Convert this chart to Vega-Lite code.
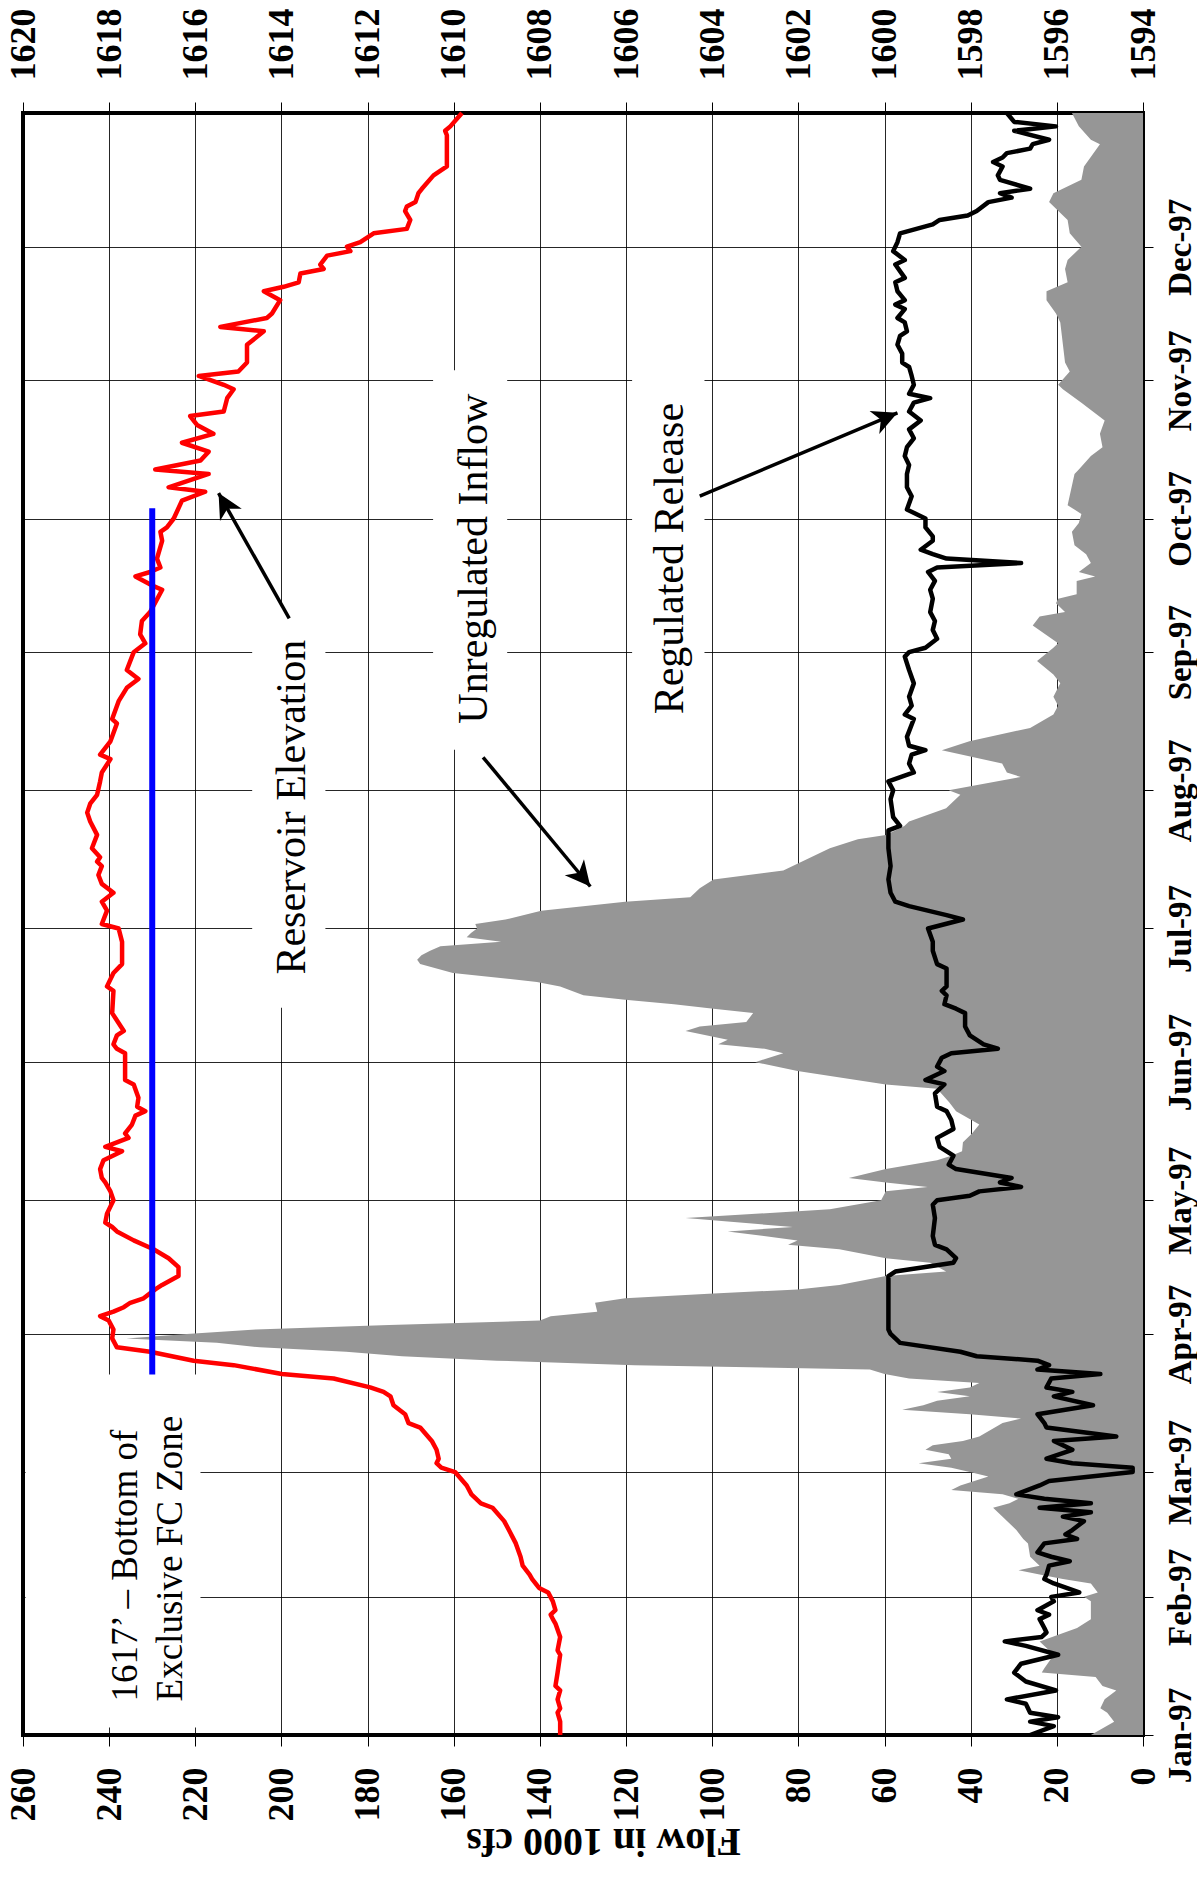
{
  "$schema": "https://vega.github.io/schema/vega-lite/v6.json",
  "width": 1120,
  "height": 1622,
  "autosize": {"type": "none"},
  "padding": {"left": 23, "top": 113, "right": 54, "bottom": 152},
  "background": "white",
  "config": {"view": {"stroke": "black", "strokeWidth": 4}, "font": "Liberation Serif"},
  "datasets": {
    "boxes": [
      {"f1": 189.8, "f2": 206.8, "d1": "1997/06/13 05:00", "d2": "1997/09/11 05:00"},
      {"f1": 147.6, "f2": 164.8, "d1": "1997/08/10 02:00", "d2": "1997/11/03 07:00"},
      {"f1": 101.8, "f2": 118.6, "d1": "1997/08/10 02:00", "d2": "1997/11/03 07:00"},
      {"f1": 218.8, "f2": 259.4, "d1": "1997/01/02 16:00", "d2": "1997/03/22 22:00"}
    ],
    "inflow": [
      {"date": "1997/01/01", "flow": 12.1}, {"date": "1997/01/04", "flow": 6.7}, {"date": "1997/01/06", "flow": 8.3},
      {"date": "1997/01/07", "flow": 9.9}, {"date": "1997/01/09", "flow": 8.9}, {"date": "1997/01/11", "flow": 6.2},
      {"date": "1997/01/12", "flow": 9.4}, {"date": "1997/01/14", "flow": 11.0}, {"date": "1997/01/15", "flow": 23.5},
      {"date": "1997/01/16", "flow": 22.9}, {"date": "1997/01/19", "flow": 20.7}, {"date": "1997/01/22", "flow": 24.0},
      {"date": "1997/01/25", "flow": 15.3}, {"date": "1997/01/27", "flow": 12.1}, {"date": "1997/01/31", "flow": 12.1},
      {"date": "1997/02/01", "flow": 13.7}, {"date": "1997/02/02", "flow": 10.5}, {"date": "1997/02/04", "flow": 12.1},
      {"date": "1997/02/05", "flow": 18.6}, {"date": "1997/02/06", "flow": 24.0}, {"date": "1997/02/07", "flow": 28.9},
      {"date": "1997/02/08", "flow": 24.0}, {"date": "1997/02/10", "flow": 26.2}, {"date": "1997/02/13", "flow": 26.7},
      {"date": "1997/02/14", "flow": 27.8}, {"date": "1997/02/16", "flow": 29.4}, {"date": "1997/02/19", "flow": 32.6},
      {"date": "1997/02/21", "flow": 34.8}, {"date": "1997/02/22", "flow": 31.0}, {"date": "1997/02/23", "flow": 28.9},
      {"date": "1997/02/24", "flow": 32.6}, {"date": "1997/02/25", "flow": 44.5}, {"date": "1997/02/26", "flow": 42.4},
      {"date": "1997/02/28", "flow": 35.9}, {"date": "1997/03/01", "flow": 40.2}, {"date": "1997/03/02", "flow": 44.5},
      {"date": "1997/03/03", "flow": 52.1}, {"date": "1997/03/04", "flow": 44.5}, {"date": "1997/03/05", "flow": 45.1},
      {"date": "1997/03/06", "flow": 50.5}, {"date": "1997/03/07", "flow": 48.8}, {"date": "1997/03/08", "flow": 41.8},
      {"date": "1997/03/09", "flow": 38.0}, {"date": "1997/03/12", "flow": 32.6}, {"date": "1997/03/13", "flow": 28.3},
      {"date": "1997/03/14", "flow": 40.2}, {"date": "1997/03/15", "flow": 55.9}, {"date": "1997/03/16", "flow": 51.0},
      {"date": "1997/03/17", "flow": 47.8}, {"date": "1997/03/18", "flow": 40.2}, {"date": "1997/03/19", "flow": 47.8},
      {"date": "1997/03/20", "flow": 40.2}, {"date": "1997/03/21", "flow": 38.0}, {"date": "1997/03/22", "flow": 54.3},
      {"date": "1997/03/23", "flow": 60.0}, {"date": "1997/03/24", "flow": 63.4}, {"date": "1997/03/25", "flow": 118},
      {"date": "1997/03/26", "flow": 150}, {"date": "1997/03/27", "flow": 172}, {"date": "1997/03/28", "flow": 185},
      {"date": "1997/03/29", "flow": 205}, {"date": "1997/03/30", "flow": 215}, {"date": "1997/03/31", "flow": 236},
      {"date": "1997/04/01", "flow": 222}, {"date": "1997/04/02", "flow": 206}, {"date": "1997/04/03", "flow": 175},
      {"date": "1997/04/04", "flow": 140}, {"date": "1997/04/05", "flow": 137.5}, {"date": "1997/04/06", "flow": 126.7},
      {"date": "1997/04/08", "flow": 127.2}, {"date": "1997/04/09", "flow": 120.2}, {"date": "1997/04/10", "flow": 100.8},
      {"date": "1997/04/11", "flow": 80.2}, {"date": "1997/04/12", "flow": 70.5}, {"date": "1997/04/14", "flow": 59.7},
      {"date": "1997/04/15", "flow": 45.7}, {"date": "1997/04/17", "flow": 49.4}, {"date": "1997/04/18", "flow": 59.7},
      {"date": "1997/04/20", "flow": 70.5}, {"date": "1997/04/21", "flow": 82.4}, {"date": "1997/04/22", "flow": 80.2},
      {"date": "1997/04/24", "flow": 96.4}, {"date": "1997/04/25", "flow": 81.3}, {"date": "1997/04/27", "flow": 106.2},
      {"date": "1997/04/29", "flow": 72.7}, {"date": "1997/05/01", "flow": 60.8}, {"date": "1997/05/03", "flow": 59.7},
      {"date": "1997/05/04", "flow": 50.0}, {"date": "1997/05/05", "flow": 59.7}, {"date": "1997/05/06", "flow": 68.3},
      {"date": "1997/05/08", "flow": 59.7}, {"date": "1997/05/10", "flow": 47.8}, {"date": "1997/05/11", "flow": 44.5},
      {"date": "1997/05/12", "flow": 42.0}, {"date": "1997/05/14", "flow": 41.8}, {"date": "1997/05/16", "flow": 39.7},
      {"date": "1997/05/18", "flow": 38.0}, {"date": "1997/05/21", "flow": 43.4}, {"date": "1997/05/23", "flow": 45.0},
      {"date": "1997/05/26", "flow": 47.8}, {"date": "1997/05/27", "flow": 59.7}, {"date": "1997/05/30", "flow": 80.2},
      {"date": "1997/06/01", "flow": 90.0}, {"date": "1997/06/03", "flow": 83.5}, {"date": "1997/06/04", "flow": 87.8},
      {"date": "1997/06/05", "flow": 98.6}, {"date": "1997/06/06", "flow": 96.4}, {"date": "1997/06/08", "flow": 106.2},
      {"date": "1997/06/09", "flow": 102.9}, {"date": "1997/06/10", "flow": 92.1}, {"date": "1997/06/12", "flow": 90.5},
      {"date": "1997/06/13", "flow": 99.7}, {"date": "1997/06/14", "flow": 108.9}, {"date": "1997/06/15", "flow": 120.2},
      {"date": "1997/06/16", "flow": 129.9}, {"date": "1997/06/18", "flow": 135.3}, {"date": "1997/06/19", "flow": 140.7},
      {"date": "1997/06/21", "flow": 160.2}, {"date": "1997/06/23", "flow": 167.8}, {"date": "1997/06/24", "flow": 168.5},
      {"date": "1997/06/25", "flow": 167.5}, {"date": "1997/06/26", "flow": 165.5}, {"date": "1997/06/27", "flow": 163.1},
      {"date": "1997/06/28", "flow": 149}, {"date": "1997/06/29", "flow": 157}, {"date": "1997/06/30", "flow": 156},
      {"date": "1997/07/01", "flow": 154.6}, {"date": "1997/07/02", "flow": 155}, {"date": "1997/07/03", "flow": 148},
      {"date": "1997/07/05", "flow": 139.7}, {"date": "1997/07/07", "flow": 120.2}, {"date": "1997/07/08", "flow": 105.1},
      {"date": "1997/07/10", "flow": 102.9}, {"date": "1997/07/12", "flow": 99.7}, {"date": "1997/07/14", "flow": 83.5},
      {"date": "1997/07/19", "flow": 72.7}, {"date": "1997/07/21", "flow": 66.2}, {"date": "1997/07/22", "flow": 59.7},
      {"date": "1997/07/24", "flow": 55.4}, {"date": "1997/07/25", "flow": 54.3}, {"date": "1997/07/28", "flow": 45.7},
      {"date": "1997/07/31", "flow": 42.4}, {"date": "1997/08/01", "flow": 45.1}, {"date": "1997/08/04", "flow": 28.4},
      {"date": "1997/08/05", "flow": 31.6}, {"date": "1997/08/07", "flow": 32.7}, {"date": "1997/08/10", "flow": 46.7},
      {"date": "1997/08/12", "flow": 40.3}, {"date": "1997/08/15", "flow": 26.2}, {"date": "1997/08/18", "flow": 20.8},
      {"date": "1997/08/20", "flow": 19.7}, {"date": "1997/08/22", "flow": 20.8}, {"date": "1997/08/25", "flow": 19.2},
      {"date": "1997/08/27", "flow": 20.8}, {"date": "1997/08/30", "flow": 24.6}, {"date": "1997/09/02", "flow": 20.8},
      {"date": "1997/09/03", "flow": 19.7}, {"date": "1997/09/07", "flow": 25.6}, {"date": "1997/09/09", "flow": 24.0},
      {"date": "1997/09/10", "flow": 18.1}, {"date": "1997/09/12", "flow": 20.2}, {"date": "1997/09/13", "flow": 19.7},
      {"date": "1997/09/14", "flow": 15.4}, {"date": "1997/09/17", "flow": 15.4}, {"date": "1997/09/18", "flow": 11.1},
      {"date": "1997/09/19", "flow": 14.9}, {"date": "1997/09/21", "flow": 12.1}, {"date": "1997/09/23", "flow": 13.2},
      {"date": "1997/09/25", "flow": 15.9}, {"date": "1997/09/28", "flow": 16.5}, {"date": "1997/09/30", "flow": 14.9},
      {"date": "1997/10/02", "flow": 14.3}, {"date": "1997/10/04", "flow": 17.5}, {"date": "1997/10/11", "flow": 15.9},
      {"date": "1997/10/12", "flow": 14.9}, {"date": "1997/10/15", "flow": 12.1}, {"date": "1997/10/17", "flow": 9.4},
      {"date": "1997/10/20", "flow": 10.0}, {"date": "1997/10/23", "flow": 8.9}, {"date": "1997/10/27", "flow": 14.3},
      {"date": "1997/10/30", "flow": 18.6}, {"date": "1997/10/31", "flow": 19.7}, {"date": "1997/11/03", "flow": 17.0},
      {"date": "1997/11/05", "flow": 18.1}, {"date": "1997/11/14", "flow": 19.2}, {"date": "1997/11/16", "flow": 20.2},
      {"date": "1997/11/19", "flow": 22.4}, {"date": "1997/11/21", "flow": 22.4}, {"date": "1997/11/23", "flow": 17.5},
      {"date": "1997/11/26", "flow": 18.1}, {"date": "1997/11/28", "flow": 17.5}, {"date": "1997/12/01", "flow": 14.3},
      {"date": "1997/12/04", "flow": 17.0}, {"date": "1997/12/07", "flow": 17.5}, {"date": "1997/12/11", "flow": 21.8},
      {"date": "1997/12/13", "flow": 20.8}, {"date": "1997/12/16", "flow": 14.3}, {"date": "1997/12/19", "flow": 13.7},
      {"date": "1997/12/24", "flow": 10.0}, {"date": "1997/12/25", "flow": 12.1}, {"date": "1997/12/28", "flow": 14.9},
      {"date": "1997/12/31", "flow": 16.5}
    ],
    "release": [
      {"date": "1997/01/01", "flow": 26.2}, {"date": "1997/01/03", "flow": 20.7}, {"date": "1997/01/04", "flow": 26.2},
      {"date": "1997/01/05", "flow": 19.7}, {"date": "1997/01/06", "flow": 26.2}, {"date": "1997/01/08", "flow": 27.2},
      {"date": "1997/01/09", "flow": 31.6}, {"date": "1997/01/11", "flow": 20.2}, {"date": "1997/01/13", "flow": 27.2},
      {"date": "1997/01/15", "flow": 29.9}, {"date": "1997/01/17", "flow": 28.3}, {"date": "1997/01/19", "flow": 19.7},
      {"date": "1997/01/21", "flow": 27.2}, {"date": "1997/01/22", "flow": 32.1}, {"date": "1997/01/23", "flow": 23.5},
      {"date": "1997/01/24", "flow": 22.4}, {"date": "1997/01/25", "flow": 22.9}, {"date": "1997/01/27", "flow": 24.0},
      {"date": "1997/01/28", "flow": 21.8}, {"date": "1997/01/29", "flow": 24.5}, {"date": "1997/01/31", "flow": 20.7},
      {"date": "1997/02/01", "flow": 21.3}, {"date": "1997/02/02", "flow": 14.8}, {"date": "1997/02/04", "flow": 20.7},
      {"date": "1997/02/05", "flow": 22.9}, {"date": "1997/02/06", "flow": 22.4}, {"date": "1997/02/08", "flow": 21.8},
      {"date": "1997/02/09", "flow": 17.0}, {"date": "1997/02/10", "flow": 21.3}, {"date": "1997/02/11", "flow": 24.5},
      {"date": "1997/02/13", "flow": 22.9}, {"date": "1997/02/14", "flow": 15.3}, {"date": "1997/02/15", "flow": 18.0},
      {"date": "1997/02/16", "flow": 16.4}, {"date": "1997/02/18", "flow": 13.7}, {"date": "1997/02/19", "flow": 18.6},
      {"date": "1997/02/20", "flow": 12.1}, {"date": "1997/02/21", "flow": 24.0}, {"date": "1997/02/22", "flow": 12.1},
      {"date": "1997/02/23", "flow": 22.9}, {"date": "1997/02/24", "flow": 29.4}, {"date": "1997/02/26", "flow": 24.0},
      {"date": "1997/02/27", "flow": 21.8}, {"date": "1997/03/01", "flow": 2.4}, {"date": "1997/03/02", "flow": 2.4},
      {"date": "1997/03/03", "flow": 16.4}, {"date": "1997/03/04", "flow": 22.4}, {"date": "1997/03/06", "flow": 16.4},
      {"date": "1997/03/08", "flow": 20.7}, {"date": "1997/03/09", "flow": 6.2}, {"date": "1997/03/10", "flow": 14.3},
      {"date": "1997/03/11", "flow": 22.4}, {"date": "1997/03/12", "flow": 22.9}, {"date": "1997/03/14", "flow": 24.5},
      {"date": "1997/03/16", "flow": 11.6}, {"date": "1997/03/18", "flow": 20.7}, {"date": "1997/03/19", "flow": 16.4},
      {"date": "1997/03/20", "flow": 22.4}, {"date": "1997/03/22", "flow": 21.3}, {"date": "1997/03/23", "flow": 9.9},
      {"date": "1997/03/24", "flow": 24.5}, {"date": "1997/03/25", "flow": 21.8}, {"date": "1997/03/26", "flow": 24.5},
      {"date": "1997/03/27", "flow": 38.6}, {"date": "1997/03/28", "flow": 42.4}, {"date": "1997/03/30", "flow": 56.4},
      {"date": "1997/04/01", "flow": 58.6}, {"date": "1997/04/02", "flow": 59.1}, {"date": "1997/04/06", "flow": 59.1},
      {"date": "1997/04/10", "flow": 59.1}, {"date": "1997/04/14", "flow": 59.1}, {"date": "1997/04/15", "flow": 57.5},
      {"date": "1997/04/17", "flow": 44.0}, {"date": "1997/04/18", "flow": 43.4}, {"date": "1997/04/20", "flow": 45.6},
      {"date": "1997/04/21", "flow": 48.3}, {"date": "1997/04/23", "flow": 48.8}, {"date": "1997/04/27", "flow": 48.3},
      {"date": "1997/04/30", "flow": 48.8}, {"date": "1997/05/01", "flow": 47.8}, {"date": "1997/05/02", "flow": 40.2},
      {"date": "1997/05/03", "flow": 38.0}, {"date": "1997/05/04", "flow": 28.3}, {"date": "1997/05/05", "flow": 33.2},
      {"date": "1997/05/06", "flow": 30.5}, {"date": "1997/05/08", "flow": 43.4}, {"date": "1997/05/09", "flow": 45.1},
      {"date": "1997/05/11", "flow": 44.0}, {"date": "1997/05/13", "flow": 47.2}, {"date": "1997/05/15", "flow": 47.8},
      {"date": "1997/05/17", "flow": 44.0}, {"date": "1997/05/19", "flow": 44.5}, {"date": "1997/05/21", "flow": 45.6},
      {"date": "1997/05/22", "flow": 47.8}, {"date": "1997/05/25", "flow": 48.3}, {"date": "1997/05/27", "flow": 46.1},
      {"date": "1997/05/28", "flow": 50.5}, {"date": "1997/05/30", "flow": 46.1}, {"date": "1997/05/31", "flow": 47.8},
      {"date": "1997/06/02", "flow": 46.7}, {"date": "1997/06/03", "flow": 44.5}, {"date": "1997/06/04", "flow": 33.7},
      {"date": "1997/06/05", "flow": 37.0}, {"date": "1997/06/07", "flow": 40.2}, {"date": "1997/06/09", "flow": 41.3},
      {"date": "1997/06/12", "flow": 41.3}, {"date": "1997/06/13", "flow": 43.4}, {"date": "1997/06/14", "flow": 46.1},
      {"date": "1997/06/16", "flow": 45.6}, {"date": "1997/06/17", "flow": 46.7}, {"date": "1997/06/18", "flow": 45.6},
      {"date": "1997/06/22", "flow": 45.6}, {"date": "1997/06/23", "flow": 47.8}, {"date": "1997/06/26", "flow": 48.8},
      {"date": "1997/06/28", "flow": 48.8}, {"date": "1997/07/01", "flow": 49.9}, {"date": "1997/07/03", "flow": 41.8},
      {"date": "1997/07/04", "flow": 45.6}, {"date": "1997/07/06", "flow": 54.3}, {"date": "1997/07/07", "flow": 57.5},
      {"date": "1997/07/09", "flow": 58.6}, {"date": "1997/07/12", "flow": 59.1}, {"date": "1997/07/15", "flow": 58.6},
      {"date": "1997/07/19", "flow": 59.1}, {"date": "1997/07/23", "flow": 59.1}, {"date": "1997/07/24", "flow": 56.4},
      {"date": "1997/07/26", "flow": 58.0}, {"date": "1997/07/30", "flow": 58.6}, {"date": "1997/08/01", "flow": 58.0},
      {"date": "1997/08/03", "flow": 59.1}, {"date": "1997/08/05", "flow": 53.2}, {"date": "1997/08/07", "flow": 54.3},
      {"date": "1997/08/09", "flow": 53.7}, {"date": "1997/08/10", "flow": 50.5}, {"date": "1997/08/11", "flow": 54.3},
      {"date": "1997/08/13", "flow": 54.8}, {"date": "1997/08/17", "flow": 53.2}, {"date": "1997/08/18", "flow": 55.3},
      {"date": "1997/08/20", "flow": 53.7}, {"date": "1997/08/22", "flow": 54.3}, {"date": "1997/08/25", "flow": 53.2},
      {"date": "1997/08/28", "flow": 54.3}, {"date": "1997/08/31", "flow": 55.3}, {"date": "1997/09/01", "flow": 54.3},
      {"date": "1997/09/02", "flow": 50.5}, {"date": "1997/09/04", "flow": 47.8}, {"date": "1997/09/06", "flow": 48.8},
      {"date": "1997/09/08", "flow": 48.3}, {"date": "1997/09/10", "flow": 49.4}, {"date": "1997/09/13", "flow": 48.8},
      {"date": "1997/09/15", "flow": 49.4}, {"date": "1997/09/17", "flow": 48.3}, {"date": "1997/09/19", "flow": 49.9},
      {"date": "1997/09/20", "flow": 47.8}, {"date": "1997/09/21", "flow": 28.3}, {"date": "1997/09/22", "flow": 45.6},
      {"date": "1997/09/23", "flow": 48.8}, {"date": "1997/09/24", "flow": 51.6}, {"date": "1997/09/26", "flow": 48.8},
      {"date": "1997/09/27", "flow": 48.8}, {"date": "1997/09/29", "flow": 50.5}, {"date": "1997/10/01", "flow": 50.5},
      {"date": "1997/10/03", "flow": 54.8}, {"date": "1997/10/06", "flow": 53.7}, {"date": "1997/10/08", "flow": 54.8},
      {"date": "1997/10/11", "flow": 54.8}, {"date": "1997/10/13", "flow": 54.3}, {"date": "1997/10/15", "flow": 55.3},
      {"date": "1997/10/17", "flow": 54.8}, {"date": "1997/10/19", "flow": 53.2}, {"date": "1997/10/21", "flow": 54.3},
      {"date": "1997/10/23", "flow": 51.6}, {"date": "1997/10/25", "flow": 54.3}, {"date": "1997/10/27", "flow": 53.2},
      {"date": "1997/10/28", "flow": 49.4}, {"date": "1997/10/29", "flow": 54.3}, {"date": "1997/10/31", "flow": 53.2},
      {"date": "1997/11/02", "flow": 53.7}, {"date": "1997/11/04", "flow": 54.3}, {"date": "1997/11/05", "flow": 55.9},
      {"date": "1997/11/07", "flow": 55.9}, {"date": "1997/11/09", "flow": 57.0}, {"date": "1997/11/11", "flow": 56.4},
      {"date": "1997/11/12", "flow": 54.8}, {"date": "1997/11/14", "flow": 55.3}, {"date": "1997/11/15", "flow": 57.0},
      {"date": "1997/11/17", "flow": 55.3}, {"date": "1997/11/18", "flow": 57.5}, {"date": "1997/11/19", "flow": 55.3},
      {"date": "1997/11/21", "flow": 57.0}, {"date": "1997/11/23", "flow": 57.5}, {"date": "1997/11/24", "flow": 55.3},
      {"date": "1997/11/27", "flow": 57.5}, {"date": "1997/11/28", "flow": 55.3}, {"date": "1997/11/30", "flow": 58.0},
      {"date": "1997/12/02", "flow": 57.0}, {"date": "1997/12/04", "flow": 56.4}, {"date": "1997/12/06", "flow": 48.8},
      {"date": "1997/12/07", "flow": 47.2}, {"date": "1997/12/08", "flow": 40.7}, {"date": "1997/12/09", "flow": 38.6},
      {"date": "1997/12/11", "flow": 35.9}, {"date": "1997/12/12", "flow": 30.5}, {"date": "1997/12/13", "flow": 33.2},
      {"date": "1997/12/14", "flow": 26.2}, {"date": "1997/12/16", "flow": 33.2}, {"date": "1997/12/17", "flow": 33.7},
      {"date": "1997/12/19", "flow": 32.6}, {"date": "1997/12/20", "flow": 34.8}, {"date": "1997/12/21", "flow": 32.6},
      {"date": "1997/12/22", "flow": 31.6}, {"date": "1997/12/23", "flow": 26.2}, {"date": "1997/12/24", "flow": 25.6},
      {"date": "1997/12/25", "flow": 21.8}, {"date": "1997/12/27", "flow": 29.9}, {"date": "1997/12/28", "flow": 20.2},
      {"date": "1997/12/29", "flow": 29.9}, {"date": "1997/12/31", "flow": 31.6}
    ],
    "elevation": [
      {"date": "1997/01/01", "elev": 1607.53}, {"date": "1997/01/04", "elev": 1607.53}, {"date": "1997/01/06", "elev": 1607.59},
      {"date": "1997/01/07", "elev": 1607.53}, {"date": "1997/01/09", "elev": 1607.59}, {"date": "1997/01/11", "elev": 1607.53},
      {"date": "1997/01/12", "elev": 1607.64}, {"date": "1997/01/15", "elev": 1607.59}, {"date": "1997/01/19", "elev": 1607.53},
      {"date": "1997/01/20", "elev": 1607.59}, {"date": "1997/01/23", "elev": 1607.53}, {"date": "1997/01/26", "elev": 1607.64},
      {"date": "1997/01/27", "elev": 1607.70}, {"date": "1997/01/28", "elev": 1607.75}, {"date": "1997/01/29", "elev": 1607.64},
      {"date": "1997/01/31", "elev": 1607.70}, {"date": "1997/02/02", "elev": 1607.81}, {"date": "1997/02/03", "elev": 1608.02},
      {"date": "1997/02/05", "elev": 1608.18}, {"date": "1997/02/06", "elev": 1608.24}, {"date": "1997/02/08", "elev": 1608.40},
      {"date": "1997/02/10", "elev": 1608.45}, {"date": "1997/02/13", "elev": 1608.56}, {"date": "1997/02/16", "elev": 1608.72},
      {"date": "1997/02/18", "elev": 1608.83}, {"date": "1997/02/21", "elev": 1609.10}, {"date": "1997/02/22", "elev": 1609.37},
      {"date": "1997/02/24", "elev": 1609.59}, {"date": "1997/02/26", "elev": 1609.70}, {"date": "1997/03/01", "elev": 1609.97},
      {"date": "1997/03/02", "elev": 1610.29}, {"date": "1997/03/03", "elev": 1610.40}, {"date": "1997/03/04", "elev": 1610.35},
      {"date": "1997/03/06", "elev": 1610.40}, {"date": "1997/03/08", "elev": 1610.51}, {"date": "1997/03/11", "elev": 1610.78},
      {"date": "1997/03/12", "elev": 1611.05}, {"date": "1997/03/14", "elev": 1611.13}, {"date": "1997/03/16", "elev": 1611.40},
      {"date": "1997/03/18", "elev": 1611.47}, {"date": "1997/03/19", "elev": 1611.63}, {"date": "1997/03/20", "elev": 1611.94},
      {"date": "1997/03/22", "elev": 1612.79}, {"date": "1997/03/23", "elev": 1613.99}, {"date": "1997/03/25", "elev": 1615.11},
      {"date": "1997/03/26", "elev": 1616.04}, {"date": "1997/03/28", "elev": 1617.05}, {"date": "1997/03/29", "elev": 1617.82},
      {"date": "1997/03/31", "elev": 1617.93}, {"date": "1997/04/02", "elev": 1617.90}, {"date": "1997/04/04", "elev": 1618.01},
      {"date": "1997/04/05", "elev": 1618.21}, {"date": "1997/04/06", "elev": 1617.90}, {"date": "1997/04/07", "elev": 1617.66},
      {"date": "1997/04/08", "elev": 1617.51}, {"date": "1997/04/09", "elev": 1617.20}, {"date": "1997/04/11", "elev": 1616.93},
      {"date": "1997/04/12", "elev": 1616.77}, {"date": "1997/04/14", "elev": 1616.39}, {"date": "1997/04/16", "elev": 1616.39},
      {"date": "1997/04/18", "elev": 1616.62}, {"date": "1997/04/20", "elev": 1616.97}, {"date": "1997/04/22", "elev": 1617.43},
      {"date": "1997/04/24", "elev": 1617.82}, {"date": "1997/04/25", "elev": 1617.93}, {"date": "1997/04/26", "elev": 1618.09},
      {"date": "1997/04/28", "elev": 1618.05}, {"date": "1997/05/01", "elev": 1617.90}, {"date": "1997/05/03", "elev": 1617.97},
      {"date": "1997/05/05", "elev": 1618.09}, {"date": "1997/05/06", "elev": 1618.17}, {"date": "1997/05/08", "elev": 1618.21},
      {"date": "1997/05/10", "elev": 1618.13}, {"date": "1997/05/12", "elev": 1617.70}, {"date": "1997/05/13", "elev": 1618.09},
      {"date": "1997/05/15", "elev": 1617.55}, {"date": "1997/05/16", "elev": 1617.63}, {"date": "1997/05/18", "elev": 1617.47},
      {"date": "1997/05/20", "elev": 1617.39}, {"date": "1997/05/21", "elev": 1617.16}, {"date": "1997/05/22", "elev": 1617.35},
      {"date": "1997/05/24", "elev": 1617.32}, {"date": "1997/05/27", "elev": 1617.43}, {"date": "1997/05/28", "elev": 1617.63},
      {"date": "1997/06/03", "elev": 1617.63}, {"date": "1997/06/04", "elev": 1617.82}, {"date": "1997/06/05", "elev": 1617.90},
      {"date": "1997/06/07", "elev": 1617.82}, {"date": "1997/06/08", "elev": 1617.66}, {"date": "1997/06/12", "elev": 1617.93},
      {"date": "1997/06/17", "elev": 1617.90}, {"date": "1997/06/18", "elev": 1618.05}, {"date": "1997/06/21", "elev": 1617.90},
      {"date": "1997/06/23", "elev": 1617.70}, {"date": "1997/06/28", "elev": 1617.70}, {"date": "1997/07/01", "elev": 1617.78},
      {"date": "1997/07/02", "elev": 1618.17}, {"date": "1997/07/05", "elev": 1618.05}, {"date": "1997/07/07", "elev": 1618.17},
      {"date": "1997/07/09", "elev": 1617.90}, {"date": "1997/07/11", "elev": 1618.17}, {"date": "1997/07/13", "elev": 1618.25},
      {"date": "1997/07/15", "elev": 1618.17}, {"date": "1997/07/16", "elev": 1618.28}, {"date": "1997/07/17", "elev": 1618.21},
      {"date": "1997/07/19", "elev": 1618.40}, {"date": "1997/07/22", "elev": 1618.28}, {"date": "1997/07/25", "elev": 1618.44},
      {"date": "1997/07/27", "elev": 1618.51}, {"date": "1997/07/29", "elev": 1618.44}, {"date": "1997/07/31", "elev": 1618.28},
      {"date": "1997/08/03", "elev": 1618.21}, {"date": "1997/08/05", "elev": 1618.17}, {"date": "1997/08/08", "elev": 1617.97},
      {"date": "1997/08/09", "elev": 1618.21}, {"date": "1997/08/12", "elev": 1617.97}, {"date": "1997/08/16", "elev": 1617.82},
      {"date": "1997/08/17", "elev": 1617.93}, {"date": "1997/08/21", "elev": 1617.78}, {"date": "1997/08/24", "elev": 1617.59},
      {"date": "1997/08/26", "elev": 1617.32}, {"date": "1997/08/28", "elev": 1617.59}, {"date": "1997/09/01", "elev": 1617.43},
      {"date": "1997/09/03", "elev": 1617.16}, {"date": "1997/09/05", "elev": 1617.28}, {"date": "1997/09/08", "elev": 1617.24},
      {"date": "1997/09/10", "elev": 1617.05}, {"date": "1997/09/15", "elev": 1616.77}, {"date": "1997/09/16", "elev": 1617.01},
      {"date": "1997/09/18", "elev": 1617.39}, {"date": "1997/09/19", "elev": 1617.05}, {"date": "1997/09/20", "elev": 1616.81},
      {"date": "1997/09/22", "elev": 1616.89}, {"date": "1997/09/26", "elev": 1616.77}, {"date": "1997/09/28", "elev": 1616.81},
      {"date": "1997/09/29", "elev": 1616.66}, {"date": "1997/10/01", "elev": 1616.50}, {"date": "1997/10/05", "elev": 1616.31},
      {"date": "1997/10/07", "elev": 1615.77}, {"date": "1997/10/08", "elev": 1616.62}, {"date": "1997/10/11", "elev": 1615.69},
      {"date": "1997/10/12", "elev": 1616.93}, {"date": "1997/10/14", "elev": 1615.88}, {"date": "1997/10/16", "elev": 1615.69},
      {"date": "1997/10/18", "elev": 1616.31}, {"date": "1997/10/20", "elev": 1615.58}, {"date": "1997/10/22", "elev": 1615.96},
      {"date": "1997/10/24", "elev": 1616.12}, {"date": "1997/10/25", "elev": 1615.34}, {"date": "1997/10/28", "elev": 1615.26},
      {"date": "1997/10/30", "elev": 1615.11}, {"date": "1997/10/31", "elev": 1615.34}, {"date": "1997/11/02", "elev": 1615.92},
      {"date": "1997/11/03", "elev": 1615.00}, {"date": "1997/11/05", "elev": 1614.80}, {"date": "1997/11/09", "elev": 1614.80},
      {"date": "1997/11/12", "elev": 1614.41}, {"date": "1997/11/13", "elev": 1615.42}, {"date": "1997/11/15", "elev": 1614.34},
      {"date": "1997/11/16", "elev": 1614.22}, {"date": "1997/11/19", "elev": 1614.03}, {"date": "1997/11/21", "elev": 1614.41},
      {"date": "1997/11/22", "elev": 1613.95}, {"date": "1997/11/23", "elev": 1613.60}, {"date": "1997/11/25", "elev": 1613.56},
      {"date": "1997/11/26", "elev": 1613.02}, {"date": "1997/11/27", "elev": 1613.10}, {"date": "1997/11/29", "elev": 1612.94},
      {"date": "1997/11/30", "elev": 1612.40}, {"date": "1997/12/01", "elev": 1612.48}, {"date": "1997/12/02", "elev": 1612.17},
      {"date": "1997/12/04", "elev": 1611.86}, {"date": "1997/12/05", "elev": 1611.09}, {"date": "1997/12/07", "elev": 1611.01},
      {"date": "1997/12/09", "elev": 1611.13}, {"date": "1997/12/10", "elev": 1611.09}, {"date": "1997/12/11", "elev": 1610.89},
      {"date": "1997/12/13", "elev": 1610.82}, {"date": "1997/12/14", "elev": 1610.74}, {"date": "1997/12/17", "elev": 1610.47},
      {"date": "1997/12/19", "elev": 1610.16}, {"date": "1997/12/26", "elev": 1610.16}, {"date": "1997/12/27", "elev": 1610.20},
      {"date": "1997/12/28", "elev": 1610.08}, {"date": "1997/12/31", "elev": 1609.81}
    ],
    "fczone": [{"elev": 1617, "start": "1997/03/22 22:00", "end": "1997/10/03 07:00"}],
    "arrows": [
      {"f1": 198.2, "d1": "1997/09/08 14:00", "f2": 214.6, "d2": "1997/10/06 17:00"},
      {"f1": 153.2, "d1": "1997/08/08 10:00", "f2": 128.3, "d2": "1997/07/10 10:00"},
      {"f1": 102.9, "d1": "1997/10/06 00:00", "f2": 57.0, "d2": "1997/10/24 17:00"}
    ],
    "labels": [
      {"label": "Reservoir Elevation", "flow": 194.5, "date": "1997/07/28 05:00"},
      {"label": "Unregulated Inflow", "flow": 152.3, "date": "1997/09/22 00:00"},
      {"label": "Regulated Release", "flow": 106.7, "date": "1997/09/22 00:00"}
    ],
    "fclabel": [{"label": "1617’ – Bottom of\nExclusive FC Zone", "flow": 233.5, "date": "1997/01/08 13:00"}]
  },
  "layer": [
    {
      "layer": [
        {
          "data": {"name": "boxes"},
          "mark": {"type": "rect", "color": "white"},
          "encoding": {
            "x": {
              "field": "f1", "type": "quantitative",
              "scale": {"domain": [0, 260], "reverse": true, "nice": false, "zero": true},
              "axis": {
                "orient": "bottom",
                "values": [0, 20, 40, 60, 80, 100, 120, 140, 160, 180, 200, 220, 240, 260],
                "domain": false, "grid": true, "gridColor": "black", "gridWidth": 1, "gridOpacity": 0.85,
                "ticks": true, "tickSize": 11, "tickColor": "black", "tickWidth": 1,
                "labelAngle": 270, "labelAlign": "right", "labelBaseline": "middle",
                "labelFont": "Liberation Serif", "labelFontWeight": "bold", "labelFontSize": 36,
                "labelColor": "black", "labelPadding": 21, "labelFlush": false, "labelOverlap": false, "labelBound": false,
                "title": "Flow in 1000 cfs", "titleFont": "Liberation Serif", "titleFontWeight": "bold",
                "titleFontSize": 40, "titleColor": "black", "titleAngle": 180, "titleAlign": "center",
                "titleBaseline": "middle", "titleX": 580, "titleY": 105
              }
            },
            "x2": {"field": "f2"},
            "y": {
              "field": "d1", "type": "temporal",
              "scale": {"domain": [{"year": 1997, "month": 1, "date": 1}, {"year": 1997, "month": 12, "date": 31}], "nice": false},
              "axis": {
                "orient": "right",
                "tickCount": {"interval": "month", "step": 1},
                "format": "%b-%y",
                "domain": false, "grid": true, "gridColor": "black", "gridWidth": 1, "gridOpacity": 0.85,
                "ticks": true, "tickSize": 10, "tickColor": "black", "tickWidth": 1,
                "labelAngle": 270, "labelAlign": "center", "labelBaseline": "top",
                "labelFont": "Liberation Serif", "labelFontWeight": "bold", "labelFontSize": 33,
                "labelColor": "black", "labelPadding": 11, "labelFlush": false, "labelOverlap": false, "labelBound": false,
                "title": null
              }
            },
            "y2": {"field": "d2"}
          }
        },
        {
          "data": {"name": "inflow"},
          "mark": {"type": "area", "orient": "horizontal", "color": "#969696", "opacity": 1},
          "encoding": {
            "x": {"field": "flow", "type": "quantitative"},
            "y": {"field": "date", "type": "temporal"}
          }
        },
        {
          "data": {"name": "release"},
          "mark": {"type": "line", "orient": "horizontal", "color": "black", "strokeWidth": 4.5, "strokeJoin": "round"},
          "encoding": {
            "x": {"field": "flow", "type": "quantitative"},
            "y": {"field": "date", "type": "temporal"}
          }
        }
      ]
    },
    {
      "layer": [
        {
          "data": {"name": "elevation"},
          "mark": {"type": "line", "orient": "horizontal", "color": "#ff0000", "strokeWidth": 4.5, "strokeJoin": "round"},
          "encoding": {
            "x": {
              "field": "elev", "type": "quantitative",
              "scale": {"domain": [1594, 1620], "reverse": true, "nice": false, "zero": false},
              "axis": {
                "orient": "top",
                "values": [1594, 1596, 1598, 1600, 1602, 1604, 1606, 1608, 1610, 1612, 1614, 1616, 1618, 1620],
                "format": "d",
                "domain": false, "grid": false,
                "ticks": true, "tickSize": 11, "tickColor": "black", "tickWidth": 1,
                "labelAngle": 270, "labelAlign": "left", "labelBaseline": "middle",
                "labelFont": "Liberation Serif", "labelFontWeight": "bold", "labelFontSize": 36,
                "labelColor": "black", "labelPadding": 22, "labelFlush": false, "labelOverlap": false, "labelBound": false,
                "title": null
              }
            },
            "y": {"field": "date", "type": "temporal"}
          }
        },
        {
          "data": {"name": "fczone"},
          "mark": {"type": "rule", "color": "#0000ff", "strokeWidth": 6},
          "encoding": {
            "x": {"field": "elev", "type": "quantitative"},
            "y": {"field": "start", "type": "temporal"},
            "y2": {"field": "end"}
          }
        }
      ]
    },
    {
      "layer": [
        {
          "data": {"name": "arrows"},
          "mark": {"type": "rule", "color": "black", "strokeWidth": 3.5},
          "encoding": {
            "x": {"field": "f1", "type": "quantitative", "scale": {"domain": [0, 260], "reverse": true, "nice": false}, "axis": null},
            "x2": {"field": "f2"},
            "y": {"field": "d1", "type": "temporal"},
            "y2": {"field": "d2"}
          }
        },
        {
          "data": {"values": [{"flow": 214.6, "date": "1997/10/06 17:00"}]},
          "mark": {"type": "point", "shape": "M0,0L0.5,1L0,0.72L-0.5,1Z", "size": 2500, "filled": true, "color": "black", "opacity": 1, "strokeWidth": 0, "angle": 330.5},
          "encoding": {
            "x": {"field": "flow", "type": "quantitative", "axis": null},
            "y": {"field": "date", "type": "temporal"}
          }
        },
        {
          "data": {"values": [{"flow": 128.3, "date": "1997/07/10 10:00"}]},
          "mark": {"type": "point", "shape": "M0,0L0.5,1L0,0.72L-0.5,1Z", "size": 2500, "filled": true, "color": "black", "opacity": 1, "strokeWidth": 0, "angle": 140.3},
          "encoding": {
            "x": {"field": "flow", "type": "quantitative", "axis": null},
            "y": {"field": "date", "type": "temporal"}
          }
        },
        {
          "data": {"values": [{"flow": 57.0, "date": "1997/10/24 17:00"}]},
          "mark": {"type": "point", "shape": "M0,0L0.5,1L0,0.72L-0.5,1Z", "size": 2500, "filled": true, "color": "black", "opacity": 1, "strokeWidth": 0, "angle": 67.2},
          "encoding": {
            "x": {"field": "flow", "type": "quantitative", "axis": null},
            "y": {"field": "date", "type": "temporal"}
          }
        },
        {
          "data": {"name": "labels"},
          "mark": {"type": "text", "angle": 270, "align": "center", "baseline": "alphabetic", "font": "Liberation Serif", "fontSize": 42, "color": "black"},
          "encoding": {
            "x": {"field": "flow", "type": "quantitative", "axis": null},
            "y": {"field": "date", "type": "temporal"},
            "text": {"field": "label"}
          }
        },
        {
          "data": {"name": "fclabel"},
          "mark": {"type": "text", "angle": 270, "align": "left", "baseline": "alphabetic", "font": "Liberation Serif", "fontSize": 37, "lineBreak": "\n", "lineHeight": 45, "color": "black"},
          "encoding": {
            "x": {"field": "flow", "type": "quantitative", "axis": null},
            "y": {"field": "date", "type": "temporal"},
            "text": {"field": "label"}
          }
        }
      ]
    }
  ],
  "resolve": {"scale": {"x": "independent"}}
}
